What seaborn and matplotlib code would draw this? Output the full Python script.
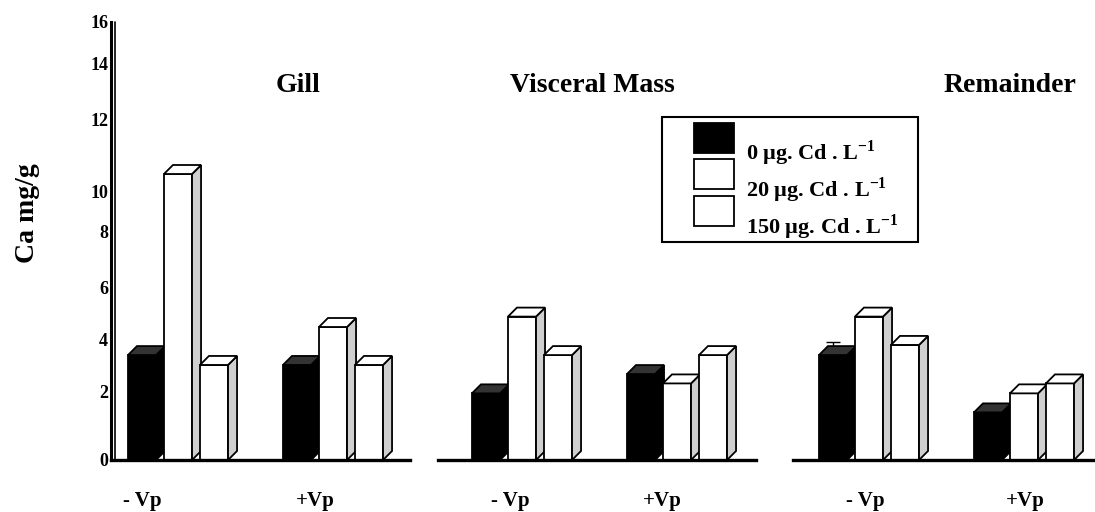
import numpy as np
import pandas as pd
import matplotlib
matplotlib.use("Agg")
import matplotlib.pyplot as plt
from matplotlib.patches import Polygon, Rectangle
from matplotlib.transforms import IdentityTransform
from matplotlib.legend_handler import HandlerPatch
import seaborn as sns

# data (Ca mg/g)
tissues = ["Gill", "Visceral Mass", "Remainder"]
treatments = ["- Vp", "+Vp"]
doses = [r"0 µg. Cd . L$^{\mathbf{-1}}$",
         r"20 µg. Cd . L$^{\mathbf{-1}}$",
         r"150 µg. Cd . L$^{\mathbf{-1}}$"]
# order: Gill -Vp, Gill +Vp, Visceral -Vp, Visceral +Vp, Remainder -Vp, Remainder +Vp
ca_0 = [3.42, 3.04, 1.96, 2.69, 3.42, 1.40]
ca_20 = [10.5, 4.50, 4.90, 2.33, 4.90, 1.96]
ca_150 = [3.04, 3.04, 3.42, 3.42, 3.81, 2.33]
rem_err = 0.5  # the only error bar that shows (Remainder, -Vp, 0 µg)

ytick_vals = [0, 2, 4, 6, 8, 10, 12, 14, 16]

# hand-drawn axis in the original: height (px) at which each label sits
ytick_px = [0, 68, 120, 172, 228, 268, 340, 396, 438]

rows = []
for k, dose in enumerate(doses):
    vals = [ca_0, ca_20, ca_150][k]
    for i, tissue in enumerate(tissues):
        for j, tr in enumerate(treatments):
            rows.append({"tissue": tissue, "treatment": tr, "dose": dose, "ca": vals[i * 2 + j]})
df = pd.DataFrame(rows)

sns.set_theme(style="white")
plt.rcParams["font.family"] = ["Liberation Serif", "DejaVu Serif"]
plt.rcParams["font.weight"] = "bold"
plt.rcParams["text.color"] = "black"
plt.rcParams["xtick.color"] = "black"
plt.rcParams["ytick.color"] = "black"
plt.rcParams["axes.labelcolor"] = "black"
plt.rcParams["mathtext.fontset"] = "custom"
plt.rcParams["mathtext.rm"] = "Liberation Serif"
plt.rcParams["mathtext.bf"] = "Liberation Serif:bold"

W, H = 1095, 512
fig = plt.figure(figsize=(W / 100, H / 100), dpi=100)

BASE = 460      # baseline, px from top
TOP = 22        # top of y axis
PX_CAT = 155    # px between the two groups
DEPTH = 9       # 3d depth in px

# left px, right px, px of first group centre, px of the two x labels, title px
panels = [(111, 410, 178, [142, 315], 298),
          (438, 756, 522, [510, 662], 592),
          (793, 1095, 869, [865, 1025], 1010)]


def fwd(v):
    return np.interp(v, ytick_vals, ytick_px)


def inv(p):
    return np.interp(p, ytick_px, ytick_vals)


def add_depth(ax):
    bars = sorted(ax.patches, key=lambda p: p.get_x())
    for i, bar in enumerate(bars):
        z = 1 + i * 0.05
        bar.set_zorder(z)
        x0 = bar.get_x()
        x1 = x0 + bar.get_width()
        (px0, py0), (px1, py1) = ax.transData.transform([(x0, 0), (x1, bar.get_height())])
        dark = bar.get_facecolor()[0] < 0.5
        top_c = "#333333" if dark else "white"
        side_c = "black" if dark else "#cfcfcf"
        d = DEPTH
        side = Polygon([(px1, py0), (px1 + d, py0 + d), (px1 + d, py1 + d), (px1, py1)],
                       closed=True, facecolor=side_c, edgecolor="black", lw=1.3,
                       transform=IdentityTransform(), zorder=z + 0.01, clip_on=False)
        top = Polygon([(px0, py1), (px1, py1), (px1 + d, py1 + d), (px0 + d, py1 + d)],
                      closed=True, facecolor=top_c, edgecolor="black", lw=1.3,
                      transform=IdentityTransform(), zorder=z + 0.02, clip_on=False)
        ax.add_patch(side)
        ax.add_patch(top)


axes = []
for i, (lpx, rpx, cpx, lab_px, tpx) in enumerate(panels):
    ax = fig.add_axes([lpx / W, (H - BASE) / H, (rpx - lpx) / W, (BASE - TOP) / H])
    sub = df[df.tissue == tissues[i]]
    sns.barplot(data=sub, x="treatment", y="ca", hue="dose", order=treatments,
                hue_order=doses, palette=["black", "white", "white"], saturation=1,
                width=3 * 36 / PX_CAT, gap=0.22, edgecolor="black", linewidth=1.3,
                legend=False, ax=ax)
    ax.set_yscale("function", functions=(fwd, inv))
    ax.set_ylim(0, 16)
    ax.set_xlim((lpx - cpx) / PX_CAT, (rpx - cpx) / PX_CAT)
    ax.set_xlabel("")
    ax.set_ylabel("")
    ax.set_xticks([(p - cpx) / PX_CAT for p in lab_px])
    ax.set_xticklabels(treatments, fontsize=15, fontweight="bold")
    ax.tick_params(axis="x", length=0, pad=22)
    for s in ["top", "right"]:
        ax.spines[s].set_visible(False)
    ax.spines["bottom"].set_linewidth(2.4)
    ax.spines["bottom"].set_color("black")
    if i == 0:
        ax.set_yticks(ytick_vals)
        ax.set_yticklabels([str(v) for v in ytick_vals], fontsize=13, fontweight="bold")
        ax.tick_params(axis="y", length=0, pad=2)
        ax.spines["left"].set_linewidth(2.2)
        ax.spines["left"].set_color("black")
        ax.plot([4 / (rpx - lpx)] * 2, [0, 1], transform=ax.transAxes, color="black",
                lw=1.2, clip_on=False, zorder=3)
    else:
        ax.spines["left"].set_visible(False)
        ax.set_yticks([])
    ax.patch.set_alpha(0)
    fig.text(tpx / W, 1 - 92 / H, tissues[i], ha="center", va="baseline",
             fontsize=20, fontweight="bold")
    axes.append(ax)
    add_depth(ax)

# error bar on Remainder -Vp, 0 µg
ax3 = axes[2]
b = ax3.containers[0][0]
ax3.errorbar(b.get_x() + b.get_width() / 2, b.get_height(), yerr=[[0], [rem_err]],
             fmt="none", ecolor="black", elinewidth=1, capsize=5, zorder=0.5)

fig.text(28 / W, 1 - 213 / H, "Ca mg/g", rotation=90, ha="center", va="center",
         fontsize=20, fontweight="bold")


def legend_patch(legend, orig_handle, xdescent, ydescent, width, height, fontsize):
    return Rectangle((-xdescent + 0.385 * width, -ydescent - 0.1 * height),
                     0.615 * width, 1.2 * height)


handles = [c[0] for c in axes[1].containers]
leg = fig.legend(handles, doses, loc="upper left",
                 bbox_to_anchor=(662 / W, 1 - 117 / H),
                 fontsize=16, handlelength=2.93, handleheight=1.35, labelspacing=0.32,
                 handletextpad=0.55, borderpad=0.3, borderaxespad=0, frameon=False,
                 handler_map={matplotlib.patches.Rectangle: HandlerPatch(patch_func=legend_patch)})
for t in leg.get_texts():
    t.set_fontweight("bold")
    t.set_y(-15)  # text sits low against the swatch in the original
frame = Rectangle((662 / W, 1 - 242 / H), 256 / W, 125 / H, transform=fig.transFigure,
                  facecolor="none", edgecolor="black", lw=1.5)
fig.patches.append(frame)

fig.savefig("out.png", dpi=100)
